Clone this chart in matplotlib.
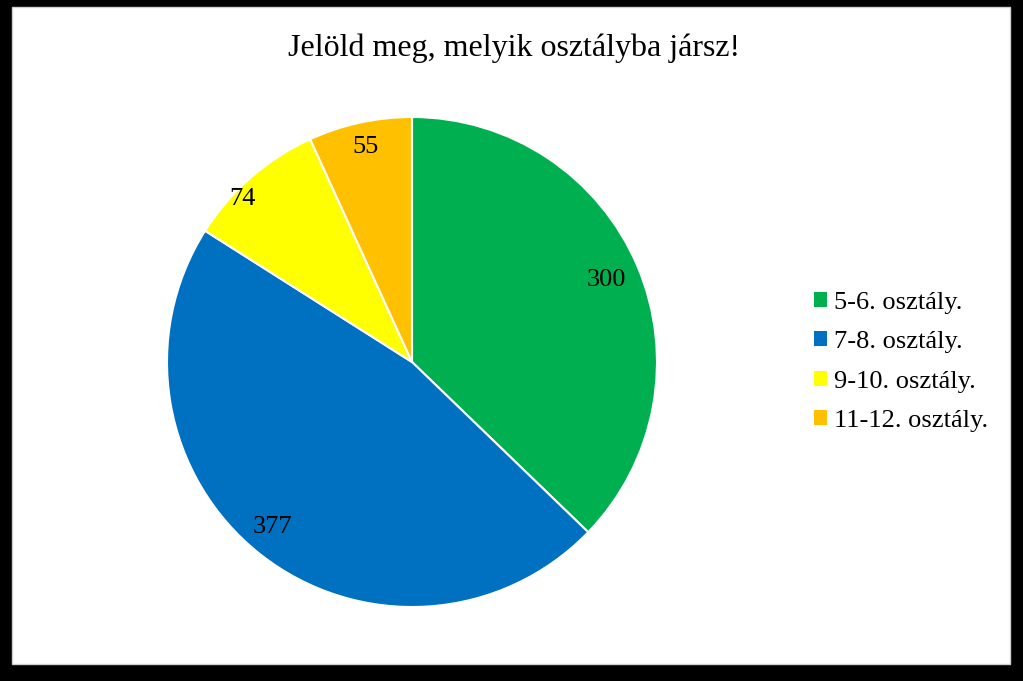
import numpy as np
import matplotlib as mpl
mpl.use('Agg')
import matplotlib.pyplot as plt
from matplotlib.patches import Rectangle, Patch

title = "Jelöld meg, melyik osztályba jársz!"
categories = ["5-6. osztály.", "7-8. osztály.", "9-10. osztály.", "11-12. osztály."]
values = [300, 377, 74, 55]
colors = ["#00B050", "#0070C0", "#FFFF00", "#FFC000"]

plt.rcParams['font.family'] = ['Liberation Serif', 'DejaVu Serif']

W, H = 1023, 681
fig = plt.figure(figsize=(W / 100, H / 100), dpi=100, facecolor='black')

# white chart area inside the black frame
fig.patches.append(Rectangle((12 / W, 1 - 664 / H), (1010 - 12) / W, (664 - 7) / H,
                             transform=fig.transFigure, facecolor='white',
                             edgecolor='#d0d0d0', linewidth=1, zorder=-5))

cx, cy, r = 412, 362, 245
ax = fig.add_axes([(cx - r) / W, (H - cy - r) / H, 2 * r / W, 2 * r / H])
ax.set_zorder(2)
ax.patch.set_visible(False)
wedges, texts, autotexts = ax.pie(
    values, colors=colors, startangle=90, counterclock=False,
    autopct=lambda p: "{:.0f}".format(p * sum(values) / 100),
    pctdistance=0.88, radius=1,
    wedgeprops=dict(edgecolor='white', linewidth=1.5),
    textprops=dict(fontsize=19, color='black'))

# excel-like "best fit" label placement
label_dist = [0.86, 0.88, 0.96, 0.90]
label_shift = [0, -2, 5, 0]
for w, t, d, s in zip(wedges, autotexts, label_dist, label_shift):
    ang = np.deg2rad((w.theta1 + w.theta2) / 2 + s)
    t.set_position((d * np.cos(ang), d * np.sin(ang)))

ax.set_xlim(-1, 1)
ax.set_ylim(-1, 1)
ax.set_aspect('equal')
ax.axis('off')

fig.text(514 / W, 1 - 48 / H, title, ha='center', va='center', fontsize=23)

handles = [Patch(facecolor=c, edgecolor='none') for c in colors]
fig.legend(handles, categories, loc='center left',
           bbox_to_anchor=(790 / W, 1 - 362 / H), frameon=False,
           fontsize=19, handlelength=0.5, handleheight=0.5,
           handletextpad=0.25, labelspacing=0.66)

fig.savefig("out.png", dpi=100, facecolor=fig.get_facecolor())
